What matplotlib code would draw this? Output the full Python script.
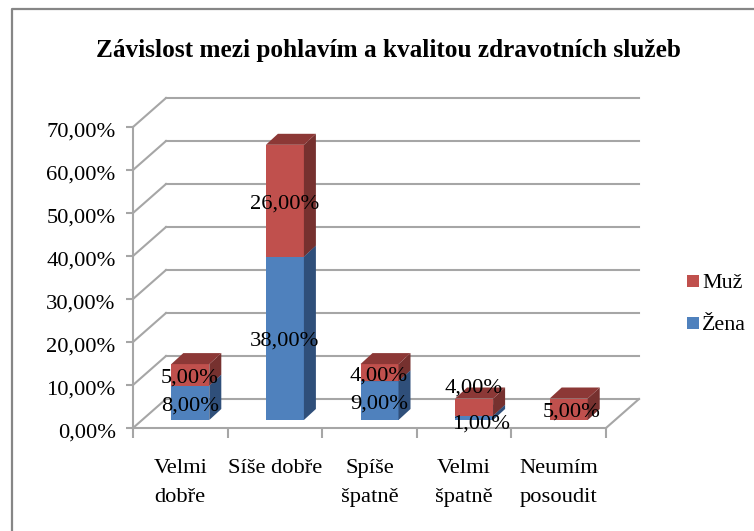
"""Zavislost mezi pohlavim a kvalitou zdravotnich sluzeb - stacked pseudo 3D column chart"""
import matplotlib
matplotlib.use("Agg")
import matplotlib.pyplot as plt
from matplotlib.lines import Line2D
from matplotlib.patches import Polygon, Rectangle
from matplotlib.transforms import ScaledTranslation

plt.rcParams['font.family'] = ['Liberation Serif', 'DejaVu Serif']

categories = ["Velmi\ndobře", "Síše dobře", "Spíše\nšpatně", "Velmi\nšpatně", "Neumím\nposoudit"]
zena = [8, 38, 9, 1, 0]
muz = [5, 26, 4, 4, 5]
ticks = [0, 10, 20, 30, 40, 50, 60, 70]
tickLabels = ["0,00%", "10,00%", "20,00%", "30,00%", "40,00%", "50,00%", "60,00%", "70,00%"]

W, H = 754, 531
LEFT, RIGHT, BOTTOM, TOP = 133, 606, 428, 127
pxX = (RIGHT - LEFT) / 5
pxY = (BOTTOM - TOP) / 70

# depth of the chart floor and of one bar, in data units
wallX, wallY = 33 / pxX, 29 / pxY
barX, barY = 12 / pxX, 11 / pxY
shiftX, shiftY = 10 / pxX, 8 / pxY
barWidth = 38 / pxX
GRID = "#a6a6a6"
FONT = 16.2

fig = plt.figure(figsize=(W / 100, H / 100), dpi=100)
# the source is a cropped screenshot, only the left and top of the frame are in it
fig.add_artist(Line2D([12 / W, 12 / W, 1], [0, 1 - 9 / H, 1 - 9 / H], color="#868686", lw=1.6))
ax = fig.add_axes([LEFT / W, 1 - BOTTOM / H, (RIGHT - LEFT) / W, (BOTTOM - TOP) / H])
ax.set_xlim(0, 5)
ax.set_ylim(0, 70)
ax.patch.set_visible(False)
for side in ("top", "right"):
    ax.spines[side].set_visible(False)
for side in ("left", "bottom"):
    ax.spines[side].set_color(GRID)
    ax.spines[side].set_linewidth(1.5)

ax.set_yticks(ticks, tickLabels, fontsize=FONT, color="black")
ax.tick_params(axis="y", length=5, width=1.5, color=GRID, pad=7.5)
labelShift = ScaledTranslation(0, -2.5 / 100, fig.dpi_scale_trans)
for label in ax.get_yticklabels():
    label.set_transform(label.get_transform() + labelShift)
ax.set_xticks(range(6), [""] * 6)
ax.tick_params(axis="x", which="major", length=7, width=1.5, color=GRID)
ax.set_xticks([i + 0.5 for i in range(5)], categories, minor=True, fontsize=FONT, linespacing=1.75)
ax.tick_params(axis="x", which="minor", length=0, pad=22)

# back wall grid lines and the slanted floor/side lines
for t in ticks:
    ax.plot([0, wallX], [t, t + wallY], color=GRID, lw=1.5, clip_on=False, zorder=1)
    ax.plot([wallX, 5 + wallX], [t + wallY, t + wallY], color=GRID, lw=1.5, clip_on=False, zorder=1)
ax.plot([5, 5 + wallX], [0, wallY], color=GRID, lw=1.5, clip_on=False, zorder=1)


def drawBar(i, start, value, front, top, side):
    """Front face through ax.bar, top and side faces as sheared polygons"""
    if value == 0:
        return
    x0 = i + 0.5 - barWidth / 2 + shiftX
    x1 = x0 + barWidth
    y0 = start + shiftY
    y1 = y0 + value
    ax.bar(x0, value, width=barWidth, bottom=y0, align="edge", color=front, clip_on=False, zorder=3)
    ax.add_patch(Polygon([(x1, y0), (x1 + barX, y0 + barY), (x1 + barX, y1 + barY), (x1, y1)],
                         facecolor=side, clip_on=False, zorder=3))
    ax.add_patch(Polygon([(x0, y1), (x0 + barX, y1 + barY), (x1 + barX, y1 + barY), (x1, y1)],
                         facecolor=top, clip_on=False, zorder=3))


def drawLabel(x, y, value):
    ax.text(x, y, f"{value},00%", ha="center", va="center", fontsize=FONT, color="black", zorder=5, clip_on=False)


for i in range(5):
    drawBar(i, 0, zena[i], "#4f81bd", "#3f6797", "#2f4f7a")
    drawBar(i, zena[i], muz[i], "#c0504d", "#8c3836", "#76312f")

    # data labels sit on the middle of each block, the small ones are pushed apart like in the source
    cx = i + 0.5 + shiftX - 0.5 / pxX
    down = 3 / pxY
    if zena[i] > 1:
        drawLabel(cx, shiftY + zena[i] / 2 - down, zena[i])
    elif zena[i] == 1:
        drawLabel(cx + 7 / pxX, 1.0, zena[i])
    ym = shiftY + zena[i] + muz[i] / 2 - down
    if i == 3:
        ym += 5.2
    drawLabel(cx + (3 / pxX if i == 4 else 0), ym, muz[i])

fig.text(388 / W, 1 - 50 / H, "Závislost mezi pohlavím a kvalitou zdravotních služeb", ha="center", va="center",
         fontsize=18.2, fontweight="bold")

# legend, muz on top
for label, color, y in (("Muž", "#c0504d", 280), ("Žena", "#4f81bd", 322)):
    fig.add_artist(Rectangle((687 / W, 1 - (y + 7) / H), 12 / W, 12 / H, transform=fig.transFigure,
                             facecolor=color, edgecolor="none"))
    fig.text(702 / W, 1 - (y + 3) / H, label, ha="left", va="center", fontsize=15.8)

fig.savefig("out.png", dpi=100)
